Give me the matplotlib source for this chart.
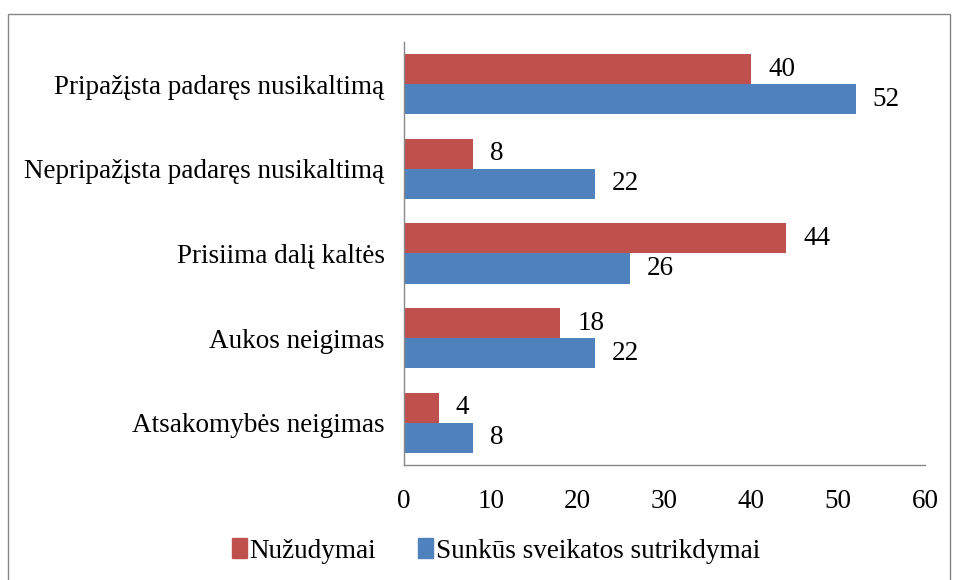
import numpy as np
import matplotlib.pyplot as plt
from matplotlib.patches import Patch, Rectangle

# Duomenys (nuo viršaus į apačią)
kategorijos = ['Pripažįsta padaręs nusikaltimą',
               'Nepripažįsta padaręs nusikaltimą',
               'Prisiima dalį kaltės',
               'Aukos neigimas',
               'Atsakomybės neigimas']
nuzudymai = [40, 8, 44, 18, 4]
sunkus = [52, 22, 26, 22, 8]
x_ticks = [0, 10, 20, 30, 40, 50, 60]

raudona = '#C0504D'
melyna = '#4F81BD'

plt.rcParams['font.family'] = ['Liberation Serif', 'DejaVu Serif']
fs = 19.5

fig = plt.figure(figsize=(9.56, 5.80), dpi=100)
ax = fig.add_axes([0.4226, 0.1983, 0.545, 0.7293])

y = np.arange(len(kategorijos))
h = 0.355
b1 = ax.barh(y - h / 2, nuzudymai, height=h, color=raudona)
b2 = ax.barh(y + h / 2, sunkus, height=h, color=melyna)

# Reikšmių žymės už stulpelių
for bars in (b1, b2):
    for r in bars:
        ax.annotate(f'{r.get_width():g}',
                    (r.get_width(), r.get_y() + r.get_height() / 2),
                    xytext=(17, 0), textcoords='offset pixels',
                    ha='left', va='center', fontsize=fs)

ax.set_ylim(len(kategorijos) - 0.5, -0.5)
ax.set_xlim(0, 60)
ax.set_xticks(x_ticks)
ax.set_yticks(y)
ax.set_yticklabels(kategorijos)
ax.tick_params(axis='both', length=0, labelsize=fs)
ax.tick_params(axis='y', pad=14)
ax.tick_params(axis='x', pad=17)

for s in ('top', 'right'):
    ax.spines[s].set_visible(False)
for s in ('left', 'bottom'):
    ax.spines[s].set_color('#888888')
    ax.spines[s].set_linewidth(1.0)

handles = [Patch(color=raudona, label='Nužudymai'),
           Patch(color=melyna, label='Sunkūs sveikatos sutrikdymai')]
fig.legend(handles=handles, loc='center', bbox_to_anchor=(0.519, 0.05),
           ncol=2, frameon=False, fontsize=fs, handlelength=0.55,
           handleheight=0.75, handletextpad=0.1, columnspacing=1.55)

# Rėmelis aplink diagramą
fig.patches.append(Rectangle((8 / 956, -0.1), 942 / 956, 0.9759 + 0.1,
                             transform=fig.transFigure, fill=False,
                             edgecolor='#868686', linewidth=1.0))

plt.savefig('out.png', dpi=100)
